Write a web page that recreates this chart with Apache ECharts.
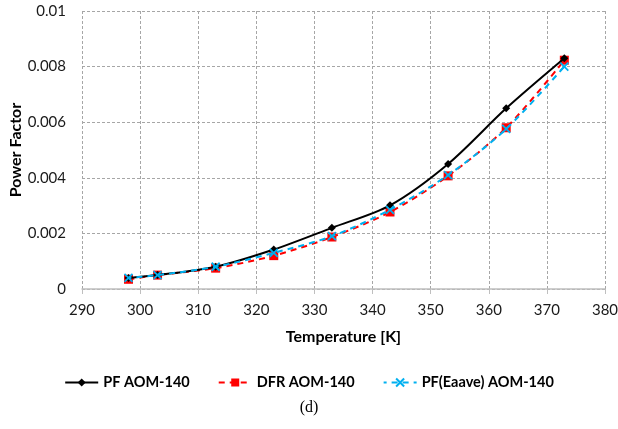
<!DOCTYPE html>
<html>
<head>
<meta charset="utf-8">
<script src="https://cdn.jsdelivr.net/npm/echarts@6/dist/echarts.min.js"></script>
<style>
  html, body { margin: 0; padding: 0; background: #fff; }
  #chart { width: 618px; height: 429px; }
</style>
</head>
<body>
<div id="chart"></div>
<script>
// Temperature points (K)
const temperatures = [298, 303, 313, 323, 333, 343, 353, 363, 373];
// Power factor series
const pfAom140 = [0.0004, 0.0005, 0.0008, 0.00142, 0.0022, 0.00301, 0.0045, 0.0065, 0.0083];
const dfrAom140 = [0.00035, 0.0005, 0.00075, 0.0012, 0.00187, 0.00277, 0.00407, 0.0058, 0.00823];
const pfEaaveAom140 = [0.0004, 0.0005, 0.0008, 0.0013, 0.0019, 0.00285, 0.0041, 0.00576, 0.008];
const seriesNames = ['PF AOM-140', 'DFR AOM-140', 'PF(Eaave) AOM-140'];

const font = 'Lato, "Open Sans", "Liberation Sans", sans-serif';
const pairs = (ys) => temperatures.map((t, i) => [t, ys[i]]);
const crossPath = 'path://M0,0L10,10M10,0L0,10';

const chart = echarts.init(document.getElementById('chart'), null, { renderer: 'canvas' });
chart.setOption({
  animation: false,
  backgroundColor: '#fff',
  grid: { left: 82, right: 13, top: 11, bottom: 140, containLabel: false, outerBoundsMode: 'none' },
  xAxis: {
    type: 'value', min: 290, max: 380, interval: 10,
    name: 'Temperature [K]', nameLocation: 'middle', nameGap: 40, nameMoveOverlap: false,
    nameTextStyle: { color: '#000', fontFamily: font, fontSize: 16, fontWeight: 'bold' },
    axisLine: { show: true, lineStyle: { color: '#bfbfbf', width: 1.5 } },
    axisTick: { show: true, length: 5, lineStyle: { color: '#bfbfbf' } },
    axisLabel: { color: '#1a1a1a', fontFamily: font, fontSize: 15, margin: 14 },
    splitLine: { show: true, lineStyle: { color: '#a6a6a6', type: [3, 2] } }
  },
  yAxis: {
    type: 'value', min: 0, max: 0.01, interval: 0.002,
    name: 'Power Factor', nameLocation: 'middle', nameGap: 58, nameMoveOverlap: false,
    nameTextStyle: { color: '#000', fontFamily: font, fontSize: 16, fontWeight: 'bold' },
    axisLine: { show: false },
    axisTick: { show: false },
    axisLabel: {
      color: '#1a1a1a', fontFamily: font, fontSize: 15, margin: 16,
      formatter: (v) => (v === 0 ? '0' : String(+v.toFixed(3)))
    },
    splitLine: { show: true, lineStyle: { color: '#a6a6a6', type: [3, 2] } }
  },
  legend: {
    top: 370, left: 'center', itemGap: 28, itemWidth: 33, itemHeight: 10,
    textStyle: { color: '#000', fontFamily: font, fontSize: 14.5, fontWeight: 'bold' },
    data: seriesNames
  },
  graphic: [
    {
      type: 'text', left: 'center', top: 400,
      style: { text: '(d)', fill: '#000', font: '16px "Liberation Serif", serif' }
    }
  ],
  series: [
    {
      name: seriesNames[0], type: 'line', smooth: 0.3, data: pairs(pfAom140),
      symbol: 'diamond', symbolSize: 8, z: 3,
      lineStyle: { color: '#000', width: 2 },
      itemStyle: { color: '#000' }
    },
    {
      name: seriesNames[1], type: 'line', smooth: 0.3, data: pairs(dfrAom140),
      symbol: 'rect', symbolSize: 9, z: 2,
      lineStyle: { color: '#ff0000', width: 2, type: [6, 5] },
      itemStyle: { color: '#ff0000' }
    },
    {
      name: seriesNames[2], type: 'line', smooth: 0.3, data: pairs(pfEaaveAom140),
      symbol: crossPath, symbolSize: 8, z: 4,
      lineStyle: { color: '#00b0f0', width: 2, type: [6, 5], dashOffset: 3 },
      itemStyle: { color: '#00b0f0', borderColor: '#00b0f0', borderWidth: 1.8 }
    }
  ]
});
</script>
</body>
</html>
